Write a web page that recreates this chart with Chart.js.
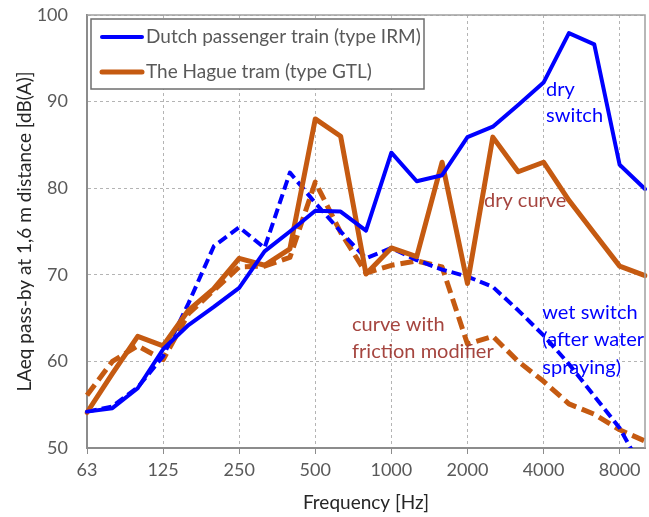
<!DOCTYPE html>
<html>
<head>
<meta charset="utf-8">
<script src="https://cdn.jsdelivr.net/npm/chart.js@4/dist/chart.umd.min.js"></script>
<style>
  body { margin: 0; background: #fff; }
  #wrap { width: 649px; height: 517px; }
</style>
</head>
<body>
<div id="wrap"><canvas id="ruidoChart" width="649" height="517"></canvas></div>
<script>
// 1/3 octave bands
const bandas = ['63', '80', '100', '125', '160', '200', '250', '315', '400', '500', '630', '800',
    '1000', '1250', '1600', '2000', '2500', '3150', '4000', '5000', '6300', '8000', '10000'];
const octavas = ['63', '125', '250', '500', '1000', '2000', '4000', '8000'];

// LAeq values, dB(A)
const irmDrySwitch = [54.2, 54.6, 56.9, 61.4, 64.2, 66.3, 68.5, 72.7, 75.0, 77.4, 77.3, 75.1,
    84.1, 80.8, 81.5, 85.9, 87.1, 89.6, 92.2, 97.9, 96.6, 82.7, 79.9];
const irmWetSwitch = [54.2, 54.8, 57.0, 60.6, 66.7, 73.3, 75.5, 73.1, 81.8, 78.3, 75.0, 71.9,
    73.1, 71.7, 70.6, 69.8, 68.6, 65.9, 63.0, 59.7, 56.0, 52.3, 47.0];
const gtlDryCurve = [54.1, 58.6, 62.9, 61.8, 65.9, 68.4, 71.9, 71.1, 73.0, 88.0, 86.0, 70.1,
    73.1, 72.1, 83.0, 69.0, 85.9, 81.9, 83.0, 78.6, 74.8, 71.0, 69.9];
const gtlFriction = [56.1, 60.0, 61.8, 60.2, 65.5, 68.2, 70.9, 71.0, 72.0, 80.7, 74.9, 70.2,
    71.1, 71.6, 70.9, 62.0, 62.9, 60.0, 57.7, 55.1, 53.9, 52.1, 50.8];

const yTicks = [50, 60, 70, 80, 90, 100];

const AZUL = '#0000ff';
const NARANJA = '#c55a11';
const GRIS = '#595959';
const FUENTE = 'Lato, "Open Sans", sans-serif';

// labels written inside the plot (x = band index, y = dB)
const notas = [
    { text: 'dry', x: 18.1, y: 91.4, color: AZUL },
    { text: 'switch', x: 18.1, y: 88.4, color: AZUL },
    { text: 'dry curve', x: 15.65, y: 78.6, color: '#a5453f' },
    { text: 'curve with', x: 10.45, y: 64.2, color: '#a5453f' },
    { text: 'friction modifier', x: 10.45, y: 61.1, color: '#a5453f' },
    { text: 'wet switch', x: 17.95, y: 65.6, color: AZUL },
    { text: '(after water', x: 17.95, y: 62.5, color: AZUL },
    { text: 'spraying)', x: 17.95, y: 59.3, color: AZUL }
];

// frame, legend and in-plot notes
const extrasPlugin = {
    id: 'extras',
    afterDraw(chart) {
        const ctx = chart.ctx;
        const a = chart.chartArea;
        const xs = chart.scales.x, ys = chart.scales.y;
        ctx.save();

        // top and right border of the plot
        ctx.strokeStyle = '#a0a0a0';
        ctx.lineWidth = 1.5;
        ctx.beginPath();
        ctx.moveTo(a.left, a.top);
        ctx.lineTo(a.right, a.top);
        ctx.lineTo(a.right, a.bottom);
        ctx.stroke();

        // legend box
        const lx = a.left + 4, ly = a.top + 4, lw = 333, lh = 70;
        ctx.fillStyle = '#fff';
        ctx.fillRect(lx, ly, lw, lh);
        ctx.strokeStyle = '#6e6e6e';
        ctx.lineWidth = 1.5;
        ctx.strokeRect(lx, ly, lw, lh);
        ctx.font = '19px ' + FUENTE;
        ctx.textBaseline = 'middle';
        ctx.textAlign = 'left';
        chart.data.datasets.filter(d => d.enLeyenda).forEach((d, i) => {
            const cy = ly + 18 + i * 35;
            ctx.strokeStyle = d.borderColor;
            ctx.lineWidth = d.borderWidth;
            ctx.lineCap = 'round';
            ctx.beginPath();
            ctx.moveTo(lx + 11, cy);
            ctx.lineTo(lx + 51, cy);
            ctx.stroke();
            ctx.fillStyle = GRIS;
            ctx.fillText(d.label, lx + 55, cy);
        });

        // notes
        ctx.font = '20px ' + FUENTE;
        notas.forEach(n => {
            ctx.fillStyle = n.color;
            ctx.fillText(n.text, xs.getPixelForValue(n.x), ys.getPixelForValue(n.y));
        });
        ctx.restore();
    }
};

const ruidoData = {
    labels: bandas,
    datasets: [
        { label: 'Dutch passenger train (type IRM)', data: irmDrySwitch, borderColor: AZUL,
          borderWidth: 4, enLeyenda: true, borderJoinStyle: 'round', borderCapStyle: 'round' },
        { label: 'The Hague tram (type GTL)', data: gtlDryCurve, borderColor: NARANJA,
          borderWidth: 5, enLeyenda: true, borderJoinStyle: 'round', borderCapStyle: 'round' },
        { label: 'IRM wet switch', data: irmWetSwitch, borderColor: AZUL,
          borderWidth: 4, borderDash: [10, 5], borderJoinStyle: 'round' },
        { label: 'GTL curve with friction modifier', data: gtlFriction, borderColor: NARANJA,
          borderWidth: 5, borderDash: [13, 6], borderJoinStyle: 'round' }
    ]
};

const ruidoConfig = {
    type: 'line',
    data: ruidoData,
    options: {
        responsive: false,
        animation: false,
        layout: { padding: { top: 15, right: 4, left: 0, bottom: 0 } },
        elements: { point: { radius: 0 }, line: { tension: 0, fill: false } },
        plugins: { legend: { display: false }, tooltip: { enabled: false } },
        scales: {
            x: {
                type: 'category',
                offset: false,
                afterFit: s => { s.height = 69; s.paddingLeft = 0; s.paddingRight = 0; },
                grid: {
                    color: c => (c.index % 3 === 0 ? '#b4b4b4' : 'rgba(0,0,0,0)'),
                    lineWidth: 1,
                    tickLength: 6,
                    tickBorderDash: [],
                    tickColor: c => (c.index % 3 === 0 ? '#8c8c8c' : 'rgba(0,0,0,0)')
                },
                border: { display: true, color: '#8c8c8c', width: 2, dash: [3, 3] },
                ticks: {
                    autoSkip: false,
                    maxRotation: 0,
                    padding: 5,
                    color: GRIS,
                    font: { family: FUENTE, size: 18 },
                    callback: function(v, i) {
                        const l = bandas[i];
                        return octavas.includes(l) ? l : '';
                    }
                },
                title: {
                    display: true,
                    text: 'Frequency [Hz]',
                    color: '#262626',
                    font: { family: FUENTE, size: 19 },
                    padding: { top: 0, bottom: 3 }
                }
            },
            y: {
                min: 50,
                max: 100,
                afterFit: s => { s.width = 87; s.paddingTop = 0; s.paddingBottom = 0; },
                afterBuildTicks: s => { s.ticks = yTicks.map(v => ({ value: v })); },
                grid: { color: '#b4b4b4', lineWidth: 1, drawTicks: false },
                border: { display: true, color: '#8c8c8c', width: 2, dash: [3, 3] },
                ticks: {
                    padding: 19,
                    color: GRIS,
                    font: { family: FUENTE, size: 18 }
                },
                title: {
                    display: true,
                    text: 'LAeq pass-by at 1,6 m distance [dB(A)]',
                    color: '#262626',
                    font: { family: FUENTE, size: 19 },
                    padding: { top: 13, bottom: 0 }
                }
            }
        }
    },
    plugins: [extrasPlugin]
};

new Chart(document.getElementById('ruidoChart'), ruidoConfig);
</script>
</body>
</html>
